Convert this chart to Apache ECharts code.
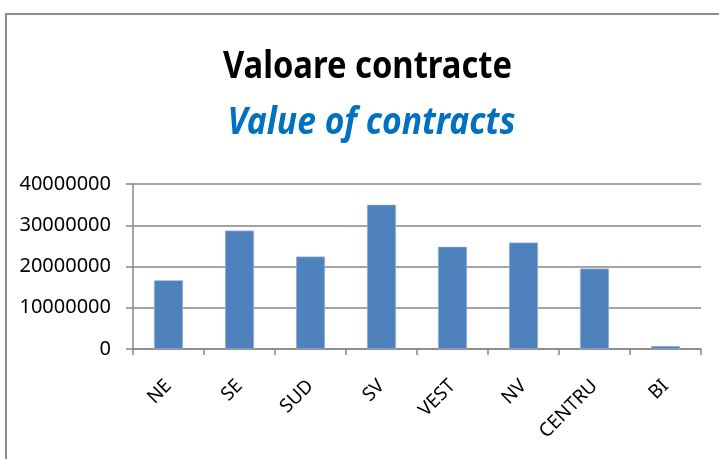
<!DOCTYPE html>
<html><head><meta charset="utf-8">
<script src="https://cdn.jsdelivr.net/npm/echarts@6/dist/echarts.min.js"></script>
<style>html,body{margin:0;padding:0;background:#fff}#c{width:719px;height:459px}</style>
</head><body><div id="c"></div>
<script>
const categories = ['NE','SE','SUD','SV','VEST','NV','CENTRU','BI'];
const values = [16650000, 28700000, 22400000, 35000000, 24800000, 25800000, 19500000, 730000];
const yTicks = [0, 10000000, 20000000, 30000000, 40000000];
const titleText = 'Valoare contracte';
const subtitleText = 'Value of contracts';

const chart = echarts.init(document.getElementById('c'), null, {renderer:'canvas'});
chart.setOption({
  animation:false,
  graphic:[
    {type:'polyline', shape:{points:[[6,470],[6,14],[730,14]]}, style:{stroke:'#8c8c8c', lineWidth:2, fill:null}},
    {type:'text', x:367.5, y:67, scaleX:0.885,
     style:{text:titleText, x:0, y:0, font:'bold 37px "Noto Sans"', fill:'#000', align:'center', verticalAlign:'middle', textAlign:'center', textVerticalAlign:'middle'}},
    {type:'text', x:371.5, y:123, scaleX:0.91,
     style:{text:subtitleText, x:0, y:0, font:'italic bold 37px "Noto Sans"', fill:'#0070C0', align:'center', verticalAlign:'middle', textAlign:'center', textVerticalAlign:'middle'}}
  ],
  grid:{left:133, right:18, top:184, bottom:110, containLabel:false},
  xAxis:{type:'category', data:categories,
    axisLine:{lineStyle:{color:'#868686', width:1.5}},
    axisTick:{show:true, length:6, lineStyle:{color:'#868686', width:1.5}},
    axisLabel:{rotate:45, fontFamily:'Noto Sans', fontSize:19, color:'#000', margin:34}},
  yAxis:{type:'value', min:yTicks[0], max:yTicks[yTicks.length-1], interval:yTicks[1]-yTicks[0],
    axisLine:{show:true, lineStyle:{color:'#868686', width:1.5}},
    axisTick:{show:true, length:7, lineStyle:{color:'#868686', width:1.5}},
    splitLine:{lineStyle:{color:'#868686', width:1.5}},
    axisLabel:{fontFamily:'Noto Sans', fontSize:20, color:'#000', margin:22, formatter:v=>String(v)}},
  series:[{type:'bar', data:values, barWidth:29,
    itemStyle:{color:'#4F81BD', borderColor:'#B9CDE5', borderWidth:0.5}}]
});
</script></body></html>
